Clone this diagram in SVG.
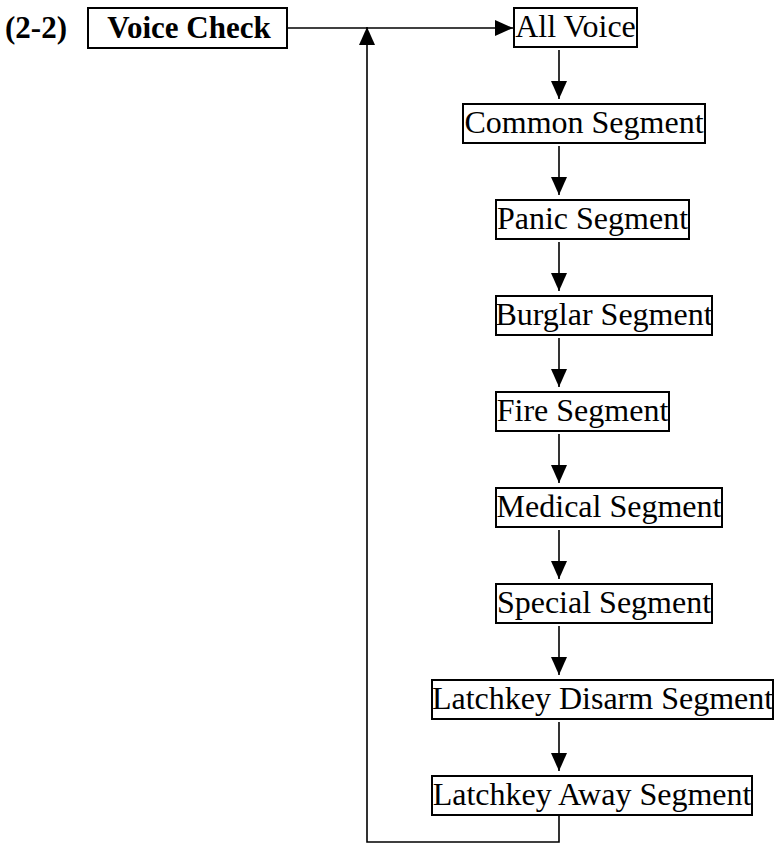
<svg xmlns="http://www.w3.org/2000/svg" width="776" height="846" viewBox="0 0 776 846">
<defs>
<marker id="ah" markerWidth="18" markerHeight="16" refX="18" refY="8" orient="auto" markerUnits="userSpaceOnUse">
<path d="M0,0 L18,8 L0,16 Z" fill="#000"/>
</marker>
<style>
.box{fill:#fff;stroke:#000;stroke-width:2}
.t{font-family:"Liberation Serif","Times New Roman",serif;font-size:32px;fill:#000;text-anchor:middle}
.b{font-family:"Liberation Serif","Times New Roman",serif;font-size:31px;font-weight:bold;fill:#000}
.ln{fill:none;stroke:#000;stroke-width:1.6}
</style>
</defs>
<rect width="776" height="846" fill="#fff"/>
<text class="b" x="5" y="38">(2-2)</text>
<g id="voice-check">
<rect class="box" x="88" y="8" width="199" height="40"/>
<text class="b" x="189" y="38" text-anchor="middle">Voice Check</text>
</g>
<g id="connectors">
<path class="ln" d="M287,28 H513" marker-end="url(#ah)"/>
<path class="ln" d="M559,815 V842 H367 V27" marker-end="url(#ah)"/>
<path class="ln" d="M559,50 V99" marker-end="url(#ah)"/>
<path class="ln" d="M559,146 V195" marker-end="url(#ah)"/>
<path class="ln" d="M559,242 V291" marker-end="url(#ah)"/>
<path class="ln" d="M559,338 V387" marker-end="url(#ah)"/>
<path class="ln" d="M559,434 V483" marker-end="url(#ah)"/>
<path class="ln" d="M559,530 V579" marker-end="url(#ah)"/>
<path class="ln" d="M559,626 V675" marker-end="url(#ah)"/>
<path class="ln" d="M559,722 V771" marker-end="url(#ah)"/>
</g>
<g id="all-voice"><rect class="box" x="514" y="8" width="123" height="39"/><text class="t" x="575.5" y="37">All Voice</text></g>
<g id="common"><rect class="box" x="463" y="104" width="242" height="39"/><text class="t" x="584" y="133">Common Segment</text></g>
<g id="panic"><rect class="box" x="496" y="200" width="193" height="39"/><text class="t" x="592.5" y="229">Panic Segment</text></g>
<g id="burglar"><rect class="box" x="496" y="296" width="216" height="39"/><text class="t" x="604" y="325">Burglar Segment</text></g>
<g id="fire"><rect class="box" x="496" y="392" width="173" height="39"/><text class="t" x="582.5" y="421">Fire Segment</text></g>
<g id="medical"><rect class="box" x="496" y="488" width="226" height="39"/><text class="t" x="609" y="517">Medical Segment</text></g>
<g id="special"><rect class="box" x="496" y="584" width="216" height="39"/><text class="t" x="604" y="613">Special Segment</text></g>
<g id="latchkey-disarm"><rect class="box" x="432" y="680" width="341" height="39"/><text class="t" x="602.5" y="709">Latchkey Disarm Segment</text></g>
<g id="latchkey-away"><rect class="box" x="432" y="776" width="320" height="39"/><text class="t" x="592" y="805">Latchkey Away Segment</text></g>
</svg>
